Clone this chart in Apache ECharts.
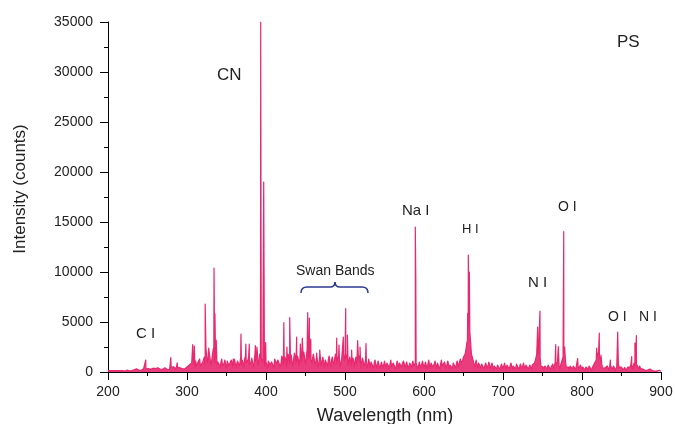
<!DOCTYPE html>
<html>
<head>
<meta charset="utf-8">
<script src="https://cdn.jsdelivr.net/npm/echarts@6/dist/echarts.min.js"></script>
<style>html,body{margin:0;padding:0;background:#fff;}#c{width:675px;height:424px;}</style>
</head>
<body>
<div id="c"></div>
<script>
// Sampled spectrum background on even wavelengths (200, 202, ... 900 nm)
var evenStart = 200;
var evenIntensity = [
  150,120,180,130,200,320,150,120,160,140,170,130,180,150,200,140,190,160,320,180,
  220,170,250,200,300,220,380,260,420,250,350,250,400,300,350,280,420,300,380,250,450,330,520,300,480,320,550,350,480,350,
  500,330,650,900,1200,500,600,1000,1300,500,1000,1500,2400,900,2000,700,1600,2500,1800,700,
  1100,400,1300,500,1200,400,1000,450,1200,500,1300,450,1100,600,1500,1200,500,1600,800,1500,600,1400,500,1800,1500,700,1800,1500,1300,600,
  1000,400,1300,500,1200,450,1500,600,1400,500,1600,700,1500,500,1800,800,1700,600,1900,900,1600,600,1800,1000,2000,800,2200,1800,1700,900,1800,600,1500,500,1600,
  600,1500,500,1400,600,1600,500,1500,700,1800,800,1600,500,1500,1900,1600,1700,700,1500,600,1400,500,1500,700,1600,500,1400,500,1200,400,1300,400,1100,350,1200,400,1100,350,1000,400,
  1100,350,1000,300,1200,400,1000,300,1100,350,1000,300,1100,400,1000,300,900,400,1100,450,900,300,1000,350,1100,400,1000,300,1200,350,1000,400,1100,350,1000,300,1200,400,1000,350,1100,300,900,350,1000,400,1100,500,1300,700,
  1500,1800,2800,4500,4000,1800,1300,500,1200,400,1100,350,1000,300,900,350,1000,300,900,250,800,300,900,250,800,
  300,900,250,800,300,900,250,800,300,1000,250,800,300,900,250,800,300,700,250,800,900,1500,1800,2000,600,
  700,250,800,300,900,250,700,300,900,800,1000,300,800,1500,2500,500,700,250,800,300,700,250,800,300,700,
  250,700,200,600,250,700,200,600,900,1200,1400,1600,1000,400,500,250,600,200,700,250,600,200,500,800,300,
  500,200,450,180,500,600,800,300,900,1200,1000,300,350,150,400,150,250,120,300,100,220,100,200,100,160,80
];
// Sampled spectrum background on odd wavelengths (201, 203, ... 899 nm)
var oddStart = 201;
var oddIntensity = [
  100,140,90,210,130,160,110,150,120,190,100,170,140,110,160,130,220,120,150,200,
  260,180,320,240,200,350,300,260,380,220,300,420,280,330,260,380,310,240,350,290,400,520,350,600,300,420,380,500,300,450,
  420,700,550,1000,800,1100,700,900,600,800,1200,700,1300,1100,1500,1000,2200,900,1400,1000,
  700,1000,600,900,700,1100,600,800,1000,700,900,800,1200,900,700,1100,1300,900,1200,700,1000,1300,900,1100,2000,1000,1400,900,1200,1100,
  800,1100,700,1000,900,1300,800,1200,1100,900,1300,1000,1200,900,1400,1200,1000,1300,1500,1100,1200,1400,1000,1500,1200,1600,1300,1500,1200,1400,1300,1000,1200,900,1300,
  1100,900,1200,1000,1300,900,1200,1000,1400,1100,1300,1200,1000,1300,1100,1400,1200,1000,1300,900,1100,1200,800,1300,1000,900,1100,800,1000,700,900,1000,600,900,700,800,900,600,800,700,
  700,900,600,800,500,900,700,600,800,900,500,700,800,600,900,500,700,800,600,900,700,600,800,500,900,700,600,800,700,900,500,800,600,900,700,800,600,700,900,500,800,700,600,900,700,800,900,1000,900,1200,
  1600,2200,3200,5000,3000,1500,900,800,700,900,600,800,700,500,800,600,700,500,800,600,500,700,600,500,700,
  600,500,700,600,500,700,600,500,800,600,500,700,600,500,700,600,500,600,700,500,1200,1600,2200,1400,800,
  500,600,500,700,600,500,800,600,700,1000,600,700,900,2000,1200,600,500,600,500,600,500,700,600,500,600,
  500,400,500,400,600,500,400,700,1000,1500,2000,1300,800,600,400,500,400,500,600,400,500,400,600,500,400,
  300,400,300,350,400,500,700,500,600,800,900,600,400,300,250,300,200,250,200,150,200,150,120,150,100
];
var sampleStep = 2;
// Emission lines: wavelength (nm) and peak intensity (counts)
var peakWavelength = [247.8,279.5,287.5,307.2,309.3,316.2,323.0,327.5,334.2,335.4,337.0,358.5,368.3,374.5,378.8,386.5,388.5,393.3,397.1,399.6,
  422.6,426.5,430.0,438.8,443.5,446.0,452.8,454.9,456.6,464.0,468.0,489.5,492.4,497.9,500.9,503.0,508.4,516.0,519.0,526.6,
  589.0,589.6,655.3,656.1,657.4,742.7,743.9,746.8,766.7,770.0,776.9,794.5,818.6,821.9,824.0,835.9,845.2,862.9,867.0,868.8];
var peakIntensity = [1200,1450,920,2750,2600,1500,6800,2400,10400,5800,3200,1300,3800,2800,2800,2650,2500,35000,19000,2950,
  4950,2500,5450,3500,2800,3400,5950,5400,3300,1900,2200,3400,2700,3500,6350,3700,2200,3150,2500,2850,
  14500,9700,5900,11700,10000,1800,4500,6100,2750,2550,14050,1350,2400,3900,1700,1200,4000,1550,2900,3650];

var xTicks = {min:200, max:900, interval:100};
var yTicks = {min:0, max:35000, interval:5000};

var pts = [];
for (var i = 0; i < evenIntensity.length; i++) pts.push([evenStart + sampleStep*i, evenIntensity[i]]);
for (var k = 0; k < oddIntensity.length; k++) pts.push([oddStart + sampleStep*k, oddIntensity[k]]);
for (var j = 0; j < peakWavelength.length; j++) pts.push([peakWavelength[j], peakIntensity[j]]);
pts.sort(function(a,b){return a[0]-b[0];});

var FONT = 'Liberation Sans, Arial, sans-serif';
var txt = '#222';
var lineColor = '#e8286f';
var braceColor = '#2b3990';
function label(t, x, y, size) {
  return {type:'text', x:x, y:y, style:{text:t, fill:txt, font: size + 'px ' + FONT, textVerticalAlign:'top'}};
}
function curve(x1,y1,cx,cy,x2,y2){
  return {type:'bezierCurve', shape:{x1:x1,y1:y1,x2:x2,y2:y2,cpx1:cx,cpy1:cy}, style:{stroke:braceColor, lineWidth:1.5, fill:null}};
}
function seg(x1,y1,x2,y2){
  return {type:'line', shape:{x1:x1,y1:y1,x2:x2,y2:y2}, style:{stroke:braceColor, lineWidth:1.5}};
}

var chart = echarts.init(document.getElementById('c'), null, {renderer:'canvas'});
chart.setOption({
  animation:false,
  backgroundColor:'#fff',
  grid:{left:108, right:14, top:22, bottom:52, containLabel:false, outerBoundsMode:'none'},
  xAxis:{type:'value', min:xTicks.min, max:xTicks.max, interval:xTicks.interval,
    axisLine:{onZero:false, lineStyle:{color:'#000', width:1}},
    axisTick:{inside:false, length:8, lineStyle:{color:'#000'}},
    minorTick:{show:true, splitNumber:2, length:4, lineStyle:{color:'#000'}},
    splitLine:{show:false},
    axisLabel:{color:txt, fontSize:14, fontFamily:FONT, margin:13, formatter:function(v){return String(v);}}},
  yAxis:{type:'value', min:yTicks.min, max:yTicks.max, interval:yTicks.interval,
    axisLine:{show:true, onZero:false, lineStyle:{color:'#000', width:1}},
    axisTick:{show:true, inside:false, length:8, lineStyle:{color:'#000'}},
    minorTick:{show:true, splitNumber:2, length:4, lineStyle:{color:'#000'}},
    splitLine:{show:false},
    axisLabel:{color:txt, fontSize:14, fontFamily:FONT, margin:15, formatter:function(v){return String(v);}}},
  series:[{type:'line', data:pts, showSymbol:false, symbol:'none', sampling:'none',
    lineStyle:{color:lineColor, width:1.2, join:'round'},
    areaStyle:{color:lineColor, opacity:0.9, origin:'start'}, z:1}],
  graphic:[
    {type:'text', x:20, y:189, rotation:Math.PI/2, style:{text:'Intensity (counts)', fill:txt, font:'17px '+FONT, textAlign:'center', textVerticalAlign:'middle'}},
    {type:'text', x:385, y:407, style:{text:'Wavelength (nm)', fill:txt, font:'18px '+FONT, textAlign:'center', textVerticalAlign:'top'}},
    label('CN', 217, 67, 17),
    label('PS', 617, 34, 17),
    label('C I', 136, 326, 15),
    label('Swan Bands', 296, 264, 14),
    label('Na I', 402, 203, 15),
    label('H I', 462, 223, 13),
    label('O I', 558, 200, 14),
    label('N I', 528, 275, 15),
    label('O I', 608, 310, 14),
    label('N I', 639, 310, 14),
    curve(301,293,301,287,307,287),
    seg(307,287,330,287),
    curve(330,287,335,287,335,282),
    curve(335,282,335,287,340,287),
    seg(340,287,362,287),
    curve(362,287,368,287,368,293)
  ]
});
</script>
</body>
</html>
